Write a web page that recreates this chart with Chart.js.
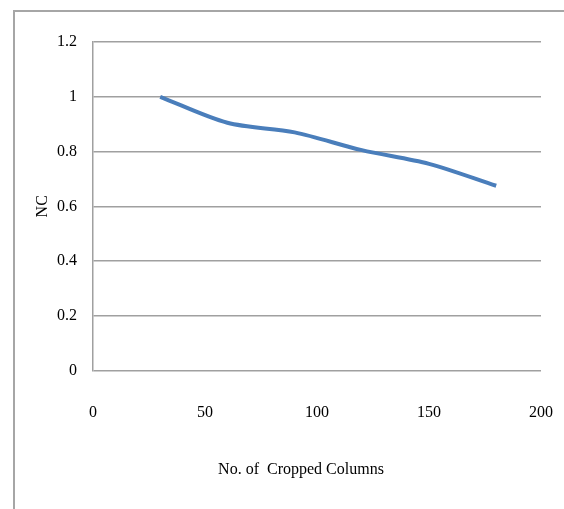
<!DOCTYPE html>
<html>
<head>
<meta charset="utf-8">
<script src="https://cdn.jsdelivr.net/npm/chart.js@4"></script>
<style>
    html, body { margin: 0; padding: 0; background: #fff; }
    #wrap { width: 564px; height: 509px; }
</style>
</head>
<body>
<div id="wrap"><canvas id="ncChart" width="564" height="509"></canvas></div>
<script>
// Chart data
const croppedColumns = [30, 60, 90, 120, 150, 180];
const ncValues = [1.0, 0.905, 0.87, 0.805, 0.755, 0.675];
const xTicks = [0, 50, 100, 150, 200];
const yTicks = [0, 0.2, 0.4, 0.6, 0.8, 1.0, 1.2];

const points = croppedColumns.map((x, i) => ({ x: x, y: ncValues[i] }));

// Outer frame like the original chart border
const framePlugin = {
    id: 'frame',
    beforeDraw(chart) {
        const c = chart.ctx;
        c.save();
        c.strokeStyle = '#a6a6a6';
        c.lineWidth = 2;
        c.beginPath();
        c.moveTo(14, chart.height);
        c.lineTo(14, 11);
        c.lineTo(chart.width, 11);
        c.stroke();
        c.restore();
    }
};

document.addEventListener('DOMContentLoaded', function() {
    const ctx = document.getElementById('ncChart').getContext('2d');
    new Chart(ctx, {
        type: 'line',
        data: {
            datasets: [{
                label: 'NC',
                data: points,
                borderColor: '#4a7ebb',
                borderWidth: 4,
                pointRadius: 0,
                tension: 0.3,
                fill: false
            }]
        },
        options: {
            responsive: false,
            animation: false,
            layout: {
                padding: { top: 42, right: 23, bottom: 30, left: 28 }
            },
            plugins: {
                legend: { display: false },
                tooltip: { enabled: false }
            },
            scales: {
                x: {
                    type: 'linear',
                    min: 0,
                    max: 200,
                    afterBuildTicks: s => { s.ticks = xTicks.map(v => ({ value: v })); },
                    // tick padding is only meant as vertical gap here
                    afterFit: s => { s.paddingLeft = 0; s.paddingRight = 0; },
                    grid: { display: false, drawTicks: false },
                    border: { display: false },
                    ticks: {
                        color: '#000',
                        padding: 33,
                        maxRotation: 0,
                        font: { family: 'Liberation Serif', size: 16 }
                    },
                    title: {
                        display: true,
                        text: 'No. of  Cropped Columns\u00a0\u00a0\u00a0\u00a0\u00a0\u00a0\u00a0\u00a0',
                        color: '#000',
                        padding: { top: 4, bottom: 0 },
                        font: { family: 'Liberation Serif', size: 16 }
                    }
                },
                y: {
                    min: 0,
                    max: 1.2,
                    afterBuildTicks: s => { s.ticks = yTicks.map(v => ({ value: v })); },
                    afterFit: s => { s.width = 93 - 28; },
                    grid: { color: '#a0a0a0', lineWidth: 1.5, drawTicks: false },
                    border: { display: true, color: '#a0a0a0', width: 1.5 },
                    ticks: {
                        color: '#000',
                        padding: 16,
                        font: { family: 'Liberation Serif', size: 16 },
                        callback: v => String(+v.toFixed(1))
                    },
                    title: {
                        display: true,
                        text: 'NC',
                        color: '#000',
                        padding: { top: 5, bottom: 0 },
                        font: { family: 'Liberation Serif', size: 16 }
                    }
                }
            }
        },
        plugins: [framePlugin]
    });
});
</script>
</body>
</html>
